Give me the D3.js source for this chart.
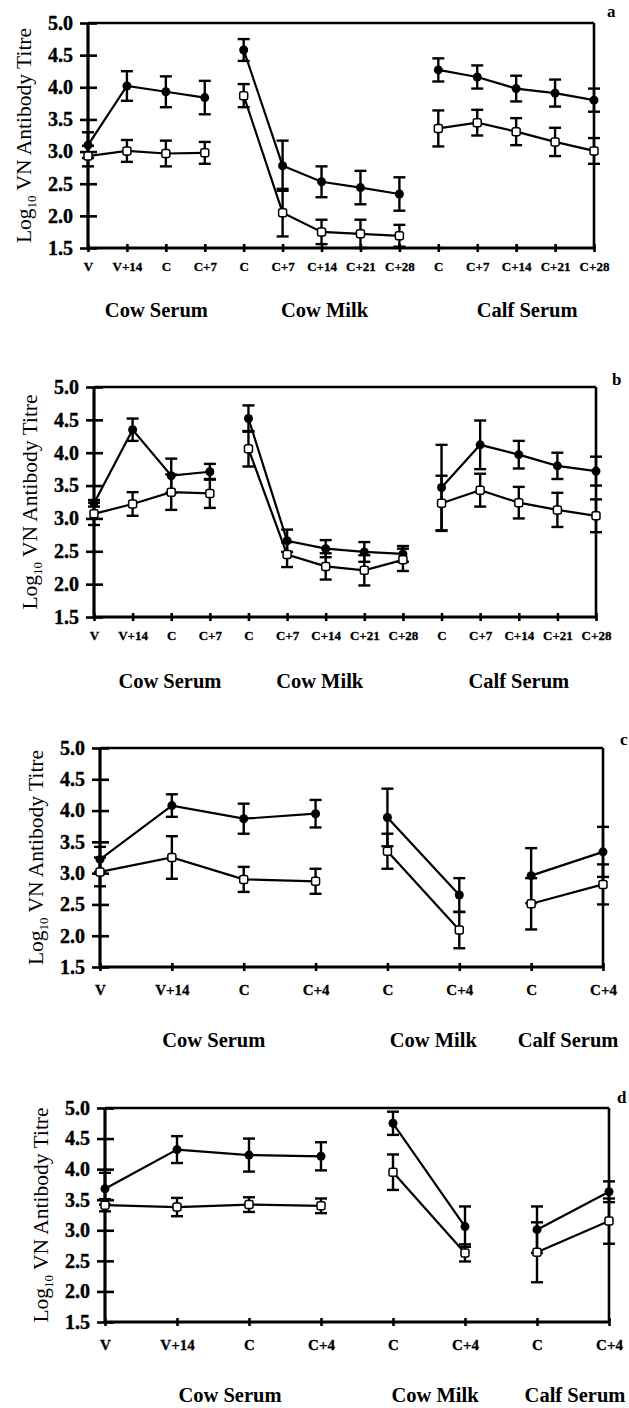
<!DOCTYPE html>
<html>
<head>
<meta charset="utf-8">
<script src="https://cdn.jsdelivr.net/npm/d3@7"></script>
<style>
  body { margin: 0; background: #fff; }
  svg { display: block; }
</style>
</head>
<body>
<svg id="fig" width="629" height="1408"></svg>
<script>
// x categories: panels a and b have weekly samples, c and d only C and C+4
const groupNames = ["Cow Serum", "Cow Milk", "Calf Serum"];
const ticksLong = ["V", "V+14", "C", "C+7", "C", "C+7", "C+14", "C+21", "C+28", "C", "C+7", "C+14", "C+21", "C+28"];
const groupLong = [0, 0, 0, 0, 1, 1, 1, 1, 1, 2, 2, 2, 2, 2];
const ticksShort = ["V", "V+14", "C", "C+4", "C", "C+4", "C", "C+4"];
const groupShort = [0, 0, 0, 0, 1, 1, 2, 2];
const yTicks = [1.5, 2.0, 2.5, 3.0, 3.5, 4.0, 4.5, 5.0];

// panel a
const aFilled = [3.10, 4.02, 3.93, 3.84, 4.58, 2.78, 2.53, 2.44, 2.34, 4.27, 4.16, 3.98, 3.91, 3.80];
const aFilledErr = [0.20, 0.23, 0.24, 0.26, 0.17, 0.39, 0.24, 0.26, 0.26, 0.18, 0.18, 0.20, 0.21, 0.18];
const aOpen = [2.93, 3.01, 2.97, 2.98, 3.87, 2.05, 1.75, 1.72, 1.69, 3.36, 3.45, 3.31, 3.15, 3.01];
const aOpenErr = [0.16, 0.17, 0.20, 0.17, 0.18, 0.37, 0.19, 0.22, 0.17, 0.28, 0.20, 0.21, 0.22, 0.20];

// panel b
const bFilled = [3.23, 4.35, 3.65, 3.71, 4.52, 2.66, 2.54, 2.49, 2.46, 3.47, 4.12, 3.97, 3.80, 3.72];
const bFilledErr = [0.05, 0.17, 0.26, 0.12, 0.20, 0.17, 0.13, 0.15, 0.12, 0.65, 0.37, 0.21, 0.20, 0.22];
const bOpen = [3.07, 3.22, 3.40, 3.38, 4.06, 2.45, 2.27, 2.21, 2.37, 3.23, 3.43, 3.24, 3.13, 3.04];
const bOpenErr = [0.17, 0.18, 0.27, 0.22, 0.27, 0.19, 0.20, 0.23, 0.17, 0.42, 0.25, 0.24, 0.26, 0.25];

// panel c
const cFilled = [3.22, 4.08, 3.87, 3.95, 3.89, 2.65, 2.96, 3.34];
const cFilledErr = [0.20, 0.18, 0.24, 0.22, 0.46, 0.27, 0.44, 0.40];
const cOpen = [3.02, 3.25, 2.90, 2.87, 3.35, 2.09, 2.51, 2.82];
const cOpenErr = [0.23, 0.34, 0.20, 0.20, 0.28, 0.29, 0.41, 0.32];

// panel d
const dFilled = [3.68, 4.32, 4.23, 4.21, 4.75, 3.06, 3.01, 3.63];
const dFilledErr = [0.26, 0.22, 0.27, 0.23, 0.19, 0.33, 0.38, 0.17];
const dOpen = [3.41, 3.38, 3.42, 3.40, 3.95, 2.63, 2.64, 3.15];
const dOpenErr = [0.10, 0.15, 0.12, 0.12, 0.29, 0.14, 0.49, 0.37];

const panels = [
  { letter: "a", ticks: ticksLong, groups: groupLong,
    filled: aFilled, filledErr: aFilledErr, open: aOpen, openErr: aOpenErr,
    left: 88, right: 594, top: 23, bottom: 248, tickY: 271, tickSize: 13,
    groupY: 317, groupDx: [10, 3, 11], letterX: 607, letterY: 17 },
  { letter: "b", ticks: ticksLong, groups: groupLong,
    filled: bFilled, filledErr: bFilledErr, open: bOpen, openErr: bOpenErr,
    left: 94, right: 596, top: 387, bottom: 617, tickY: 640, tickSize: 13,
    groupY: 688, groupDx: [18, -6, 0], letterX: 612, letterY: 385 },
  { letter: "c", ticks: ticksShort, groups: groupShort,
    filled: cFilled, filledErr: cFilledErr, open: cOpen, openErr: cOpenErr,
    left: 100, right: 603, top: 748, bottom: 967, tickY: 995, tickSize: 15,
    groupY: 1047, groupDx: [6, 10, 1], letterX: 620, letterY: 745 },
  { letter: "d", ticks: ticksShort, groups: groupShort,
    filled: dFilled, filledErr: dFilledErr, open: dOpen, openErr: dOpenErr,
    left: 105, right: 609, top: 1108, bottom: 1322, tickY: 1350, tickSize: 15,
    groupY: 1402, groupDx: [17, 6, 2], letterX: 617, letterY: 1103 }
];

const svg = d3.select("#fig");
const serif = "Liberation Serif, Times New Roman, serif";

panels.forEach(drawPanel);

function drawPanel(p) {
  const g = svg.append("g");
  const n = p.ticks.length;
  const x = d3.scalePoint().domain(d3.range(n)).range([p.left, p.right]);
  const y = d3.scaleLinear().domain([1.5, 5]).range([p.bottom, p.top]);

  // y axis: ticks cross the axis line
  const yAxis = g.append("g")
    .attr("transform", `translate(${p.left},0)`)
    .call(d3.axisLeft(y).tickValues(yTicks).tickSize(8).tickPadding(7).tickFormat(d3.format(".1f")));
  yAxis.attr("font-family", serif);
  yAxis.select(".domain").remove();
  yAxis.selectAll(".tick line").attr("x1", 9).attr("stroke", "#000").attr("stroke-width", 2.6);
  yAxis.selectAll(".tick text")
    .attr("fill", "#000")
    .attr("stroke", "#000")
    .attr("stroke-width", 0.4)
    .attr("font-weight", "bold")
    .attr("font-size", 20);

  const xAxis = g.append("g")
    .attr("transform", `translate(0,${p.bottom})`)
    .call(d3.axisBottom(x).tickSize(4).tickFormat(i => p.ticks[i]));
  xAxis.attr("font-family", serif);
  xAxis.select(".domain").remove();
  xAxis.selectAll(".tick line").attr("y1", -4).attr("stroke", "#000").attr("stroke-width", 2.6);
  xAxis.selectAll(".tick text")
    .attr("y", p.tickY - p.bottom)
    .attr("dy", null)
    .attr("fill", "#000")
    .attr("stroke", "#000")
    .attr("stroke-width", 0.3)
    .attr("font-weight", "bold")
    .attr("font-size", p.tickSize);

  // frame, heavier on the left and bottom
  const frame = [
    [p.left, p.top, p.left, p.bottom + 1.5, 3.2],
    [p.left, p.bottom, p.right + 1.2, p.bottom, 3.2],
    [p.left, p.top, p.right, p.top, 2.6],
    [p.right, p.top, p.right, p.bottom, 2.6]
  ];
  g.selectAll("line.frame").data(frame).join("line")
    .attr("class", "frame")
    .attr("x1", d => d[0]).attr("y1", d => d[1])
    .attr("x2", d => d[2]).attr("y2", d => d[3])
    .attr("stroke", "#000")
    .attr("stroke-width", d => d[4]);

  const series = [
    { values: p.filled, err: p.filledErr, kind: "filled" },
    { values: p.open, err: p.openErr, kind: "open" }
  ];

  // error bars
  series.forEach(s => {
    const bars = g.append("g").attr("stroke", "#000").attr("stroke-width", 2.4);
    s.values.forEach((v, i) => {
      const cx = x(i), y0 = y(v - s.err[i]), y1 = y(v + s.err[i]);
      bars.append("line").attr("x1", cx).attr("x2", cx).attr("y1", y0).attr("y2", y1);
      bars.append("line").attr("x1", cx - 6).attr("x2", cx + 6).attr("y1", y0).attr("y2", y0);
      bars.append("line").attr("x1", cx - 6).attr("x2", cx + 6).attr("y1", y1).attr("y2", y1);
    });
  });

  // connecting lines, one per sample group
  const line = d3.line().x(i => x(i));
  series.forEach(s => {
    groupNames.forEach((name, k) => {
      const idx = d3.range(n).filter(i => p.groups[i] === k);
      g.append("path")
        .attr("d", line.y(i => y(s.values[i]))(idx))
        .attr("fill", "none")
        .attr("stroke", "#000")
        .attr("stroke-width", 2.2);
    });
  });

  // markers
  g.append("g").selectAll("circle").data(p.filled).join("circle")
    .attr("cx", (v, i) => x(i))
    .attr("cy", v => y(v))
    .attr("r", 4.5)
    .attr("fill", "#000");
  g.append("g").selectAll("rect").data(p.open).join("rect")
    .attr("x", (v, i) => x(i) - 4)
    .attr("y", v => y(v) - 4)
    .attr("width", 8)
    .attr("height", 8)
    .attr("rx", 2)
    .attr("fill", "#fff")
    .attr("stroke", "#000")
    .attr("stroke-width", 1.5);

  // group names under the axis
  groupNames.forEach((name, k) => {
    const xs = d3.range(n).filter(i => p.groups[i] === k).map(i => x(i));
    g.append("text")
      .attr("x", d3.mean(xs) + p.groupDx[k])
      .attr("y", p.groupY)
      .attr("text-anchor", "middle")
      .attr("font-family", serif)
      .attr("font-weight", "bold")
      .attr("font-size", 20.5)
      .text(name);
  });

  // rotated y title with subscript
  const title = g.append("text")
    .attr("transform", `translate(${p.left - 57},${(p.top + p.bottom) / 2}) rotate(-90)`)
    .attr("text-anchor", "middle")
    .attr("font-family", serif)
    .attr("font-size", 21.5);
  title.append("tspan").text("Log");
  title.append("tspan").attr("font-size", 13).attr("dy", 5).text("10");
  title.append("tspan").attr("dy", -5).text(" VN Antibody Titre");

  g.append("text")
    .attr("x", p.letterX)
    .attr("y", p.letterY)
    .attr("font-family", serif)
    .attr("font-weight", "bold")
    .attr("font-size", 17)
    .text(p.letter);
}
</script>
</body>
</html>
